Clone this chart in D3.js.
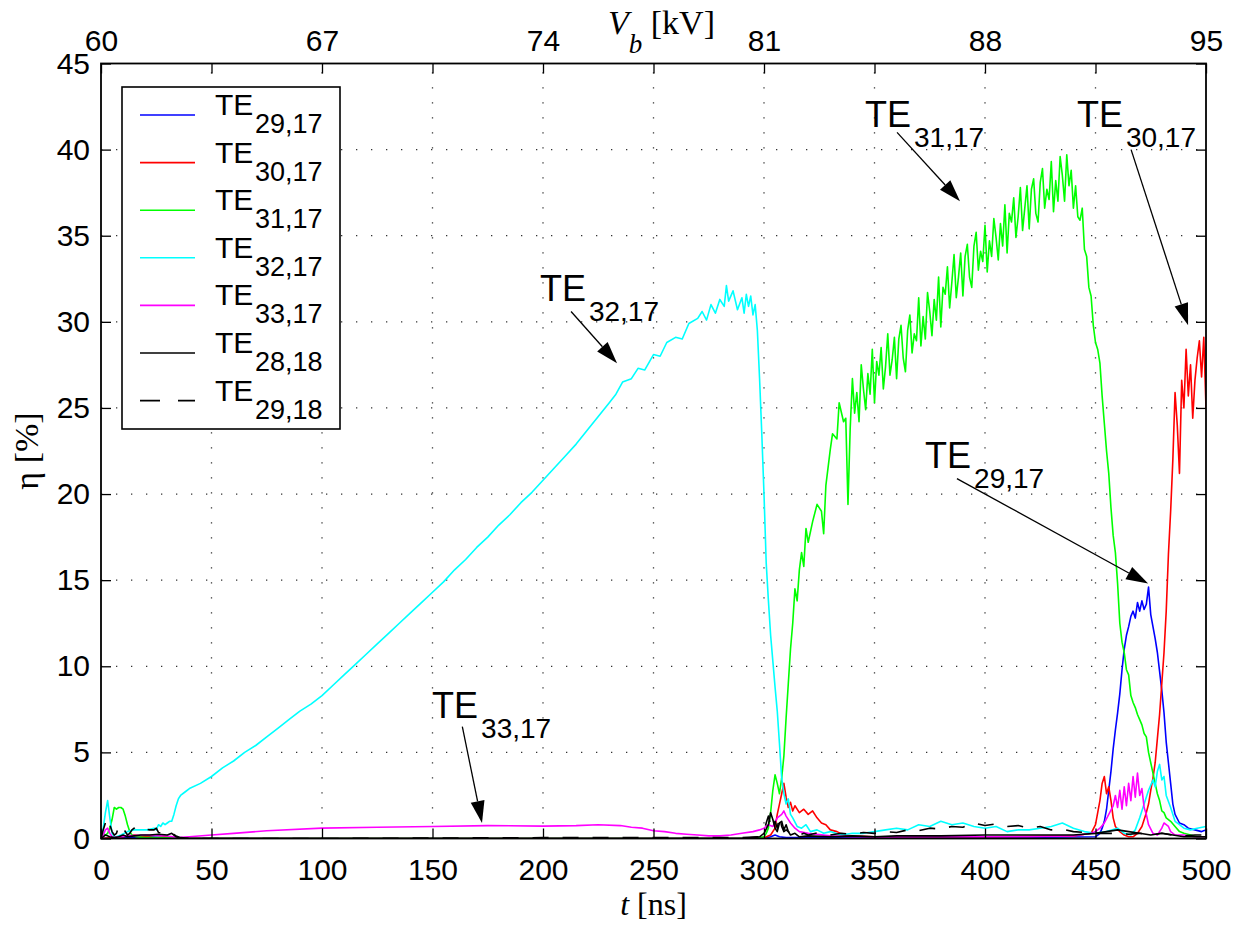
<!DOCTYPE html>
<html>
<head>
<meta charset="utf-8">
<script src="https://cdn.jsdelivr.net/npm/d3@7"></script>
<style>
  body { margin: 0; background: #fff; }
</style>
</head>
<body>
<svg id="chart" width="1244" height="930"></svg>
<script>
// axis ticks
const tTicks = [0, 50, 100, 150, 200, 250, 300, 350, 400, 450, 500];
const etaTicks = [0, 5, 10, 15, 20, 25, 30, 35, 40, 45];
const vbTicks = [60, 67, 74, 81, 88, 95];

// mode names (subscripts of TE)
const modeNames = ["29,17", "30,17", "31,17", "32,17", "33,17", "28,18", "29,18"];

// [t (ns), eta (%)]
const te2917 = [[0,0],[10,0.05],[20,0.1],[30,0.05],[35,0],[100,0],[300,0],[303,0.1],[305,0.2],[307,0.1],[310,0.05],[320,0.05],[400,0.05],[450,0.1],
  [452,0.3],[453,0.6],[454,1.0],[455,1.7],[456,2.8],[457,3.9],[458,5.2],[459,6.3],[460,7.3],[461,8.4],[462,9.8],[463,11.0],[464,11.8],[465,12.3],
  [466,12.9],[467,13.2],[468,12.8],[469,13.7],[470,13.2],[471,13.8],[472,13.3],[473,13.6],[474,14.6],[475,13.0],[476,12.3],[477,11.6],[478,10.8],
  [479,9.7],[480,8.6],[481,7.3],[482,5.6],[483,4.4],[484,3.2],[485,2.0],[486,1.4],[488,0.9],[490,0.8],[492,0.6],[495,0.5],[498,0.4],[500,0.5]];

const te3017 = [[0,0],[10,0.1],[15,0.2],[20,0.1],[25,0.2],[30,0.1],[35,0],[100,0],[200,0],[290,0],[300,0.05],[303,0.2],[305,0.6],[306,1.4],
  [307,2.0],[308,2.6],[309,3.2],[310,2.4],[311,1.8],[312,2.1],[313,1.6],[314,1.9],[316,1.5],[318,1.7],[320,1.4],[322,1.6],[324,1.2],[326,0.9],
  [328,0.8],[330,0.5],[333,0.4],[336,0.2],[340,0.15],[350,0.1],[400,0.1],[440,0.15],[448,0.3],[450,0.8],[451,1.5],[452,2.2],[453,3.2],[454,3.6],
  [455,2.6],[456,3.0],[457,2.2],[458,1.2],[459,0.7],[461,0.4],[463,0.2],[465,0.1],[467,0.1],[469,0.3],[471,0.7],[473,1.5],[474,2.0],[475,2.8],
  [476,3.5],[477,4.4],[478,5.8],[479,7.2],[480,9.0],[481,10.8],[482,13.2],[483,16.5],[484,19.0],[485,22.0],[486,25.9],[487,24.0],[488,21.2],
  [489,26.6],[490,25.0],[491,28.4],[492,25.7],[493,27.5],[494,24.4],[495,26.6],[496,27.9],[497,28.9],[498,26.8],[499,29.1],[500,25.0]];

const te3117 = [[0,0],[1,0.3],[2,0.2],[3,0.3],[4,0.6],[5,1.1],[6,1.8],[7,1.7],[8,1.8],[9,1.8],[10,1.7],[11,1.3],[12,0.8],[13,0.4],[14,0.2],
  [16,0.1],[20,0.05],[30,0.05],[40,0],[100,0],[200,0],[290,0],[298,0.05],[300,0.1],[301,0.3],[302,0.6],[303,1.5],[304,2.8],[305,3.7],[306,3.2],
  [307,2.6],[308,3.5],[309,4.8],[310,7.0],[311,9.0],[312,11.0],[313,12.5],[314,14.5],[315,13.8],[316,15.6],[317,16.6],[318,15.8],[319,18.0],
  [320,17.2],[322,18.4],[324,19.4],[326,19.0],[327,17.7],[328,20.5],[330,22.6],[331,23.5],[333,23.2],[334,25.3],[336,24.2],[337,24.4],[338,19.4],
  [339,23.8],[340,26.7],[341,24.7],[342,25.9],[343,24.2],[344,27.5],[345,26.1],[346,24.9],[347,27.0],[348,25.8],[349,28.4],[350,25.3],[351,27.7],
  [352,26.9],[353,28.5],[354,26.1],[355,27.4],[356,29.3],[357,26.9],[358,27.8],[359,29.1],[360,26.7],[361,29.0],[362,29.8],[363,27.9],[364,27.1],
  [365,29.5],[366,30.4],[367,28.2],[368,29.3],[369,28.9],[370,31.4],[371,28.6],[372,30.3],[373,29.0],[374,31.7],[375,30.6],[376,29.2],[377,31.3],
  [378,30.1],[379,32.6],[380,29.7],[381,32.0],[382,31.6],[383,33.2],[384,30.8],[385,32.3],[386,33.9],[387,31.4],[388,32.6],[389,34.0],[390,31.5],
  [391,33.8],[392,34.5],[393,32.6],[394,32.0],[395,34.4],[396,35.2],[397,33.0],[398,34.1],[399,33.5],[400,35.6],[401,32.9],[402,34.7],[403,33.8],
  [404,36.0],[405,34.9],[406,33.6],[407,35.7],[408,34.4],[409,36.8],[410,34.0],[411,36.3],[412,35.8],[413,37.2],[414,34.9],[415,36.1],[416,37.8],
  [417,35.3],[418,36.6],[419,37.9],[420,35.4],[421,37.7],[422,38.3],[423,36.3],[424,35.8],[425,38.1],[426,38.9],[427,36.6],[428,37.7],[429,37.1],
  [430,39.3],[431,36.4],[432,38.2],[433,37.0],[434,39.6],[435,38.5],[436,37.0],[437,39.7],[438,37.9],[439,38.8],[440,36.6],[441,37.9],[442,36.1],
  [443,35.9],[444,36.6],[445,34.2],[446,33.8],[447,32.0],[448,31.5],[449,29.8],[450,28.8],[451,28.4],[452,27.6],[453,25.7],[454,24.1],[455,22.5],
  [456,21.2],[457,19.2],[458,17.6],[459,16.6],[460,14.8],[461,12.5],[462,11.4],[463,10.8],[464,9.8],[465,9.5],[466,8.3],[467,7.9],[468,7.6],
  [469,7.2],[470,6.9],[471,6.6],[472,6.1],[473,5.9],[474,5.0],[475,4.4],[476,3.8],[477,3.2],[478,2.6],[479,2.2],[480,1.6],[481,1.5],[482,1.2],
  [484,1.0],[486,0.7],[488,0.4],[490,0.3],[493,0.2],[496,0.1],[500,0.1]];

const te3217 = [[0,0],[1,0.6],[2,1.5],[3,2.2],[4,1.2],[5,0.3],[6,0.1],[7,0.1],[9,0.2],[12,0.4],[15,0.5],[18,0.5],[21,0.5],[24,0.6],[25,0.5],
  [26,0.8],[27,0.7],[28,0.9],[29,0.8],[30,0.9],[31,1.0],[32,1.0],[33,1.4],[34,1.9],[35,2.3],[36,2.5],[38,2.7],[40,2.9],[45,3.2],[50,3.6],[55,4.1],
  [60,4.5],[65,5.0],[70,5.4],[75,5.9],[80,6.4],[85,6.9],[90,7.4],[95,7.8],[100,8.3],[105,8.9],[110,9.5],[115,10.1],[120,10.7],[125,11.3],
  [130,11.9],[135,12.5],[140,13.1],[145,13.7],[150,14.3],[155,14.9],[160,15.6],[165,16.2],[170,16.9],[175,17.5],[180,18.2],[185,18.8],[190,19.5],
  [195,20.1],[200,20.8],[205,21.5],[210,22.2],[215,22.9],[220,23.7],[225,24.5],[230,25.3],[233,25.8],[236,26.5],[240,26.7],[243,27.3],[246,27.2],
  [250,28.1],[253,28.0],[256,28.8],[260,29.1],[263,29.0],[266,29.9],[270,30.2],[272,30.6],[274,30.1],[276,31.0],[278,30.5],[280,31.3],[282,30.9],
  [283,32.1],[284,31.2],[286,31.8],[288,30.7],[290,31.4],[291,30.5],[292,31.6],[293,30.9],[294,31.5],[295,30.4],[296,31.0],[297,29.5],[298,26.7],
  [299,23.5],[300,20.0],[301,16.0],[302,13.8],[303,11.8],[304,10.3],[305,8.8],[306,7.4],[307,5.5],[308,3.5],[309,2.6],[310,2.0],[311,2.3],
  [312,1.4],[313,1.2],[315,0.7],[317,0.6],[319,0.8],[321,0.4],[324,0.5],[327,0.3],[330,0.4],[335,0.2],[340,0.3],[345,0.3],[350,0.4],[355,0.5],
  [360,0.6],[365,0.5],[370,0.8],[375,0.7],[380,1.0],[385,0.8],[390,0.9],[395,0.7],[400,0.6],[405,0.7],[410,0.4],[415,0.5],[420,0.5],[425,0.6],
  [430,0.7],[435,0.9],[440,0.6],[445,0.4],[450,0.3],[455,0.4],[460,0.6],[463,0.3],[466,0.2],[468,0.5],[470,1.2],[472,2.0],[474,2.8],[476,3.4],
  [477,3.0],[478,3.9],[479,4.3],[480,3.4],[481,3.6],[482,2.5],[484,1.8],[486,1.0],[488,0.8],[490,0.6],[493,0.5],[496,0.6],[500,0.7]];

const te3317 = [[0,0],[1,0.2],[2,0.5],[3,0.6],[4,0.3],[5,0.1],[6,0.05],[8,0.1],[12,0.15],[20,0.2],[30,0.15],[35,0.05],[40,0.1],[50,0.2],[60,0.3],
  [75,0.45],[100,0.6],[125,0.65],[150,0.7],[175,0.75],[200,0.72],[215,0.75],[225,0.8],[235,0.75],[240,0.65],[245,0.6],[250,0.45],[255,0.4],
  [260,0.3],[265,0.25],[270,0.2],[275,0.15],[280,0.15],[285,0.2],[290,0.3],[295,0.4],[298,0.5],[300,0.6],[302,0.8],[304,0.7],[306,1.2],[308,1.4],
  [309,1.6],[310,1.3],[312,0.9],[314,0.6],[316,0.4],[320,0.3],[330,0.15],[340,0.1],[360,0.1],[380,0.1],[400,0.1],[420,0.1],[440,0.15],[448,0.3],
  [450,0.4],[452,0.6],[454,0.9],[456,1.4],[458,1.9],[459,2.5],[460,1.8],[461,2.8],[462,1.7],[463,3.0],[464,1.9],[465,3.2],[466,2.2],[467,3.6],
  [468,2.4],[469,3.8],[470,2.5],[471,2.9],[472,1.8],[473,1.4],[474,0.8],[476,0.3],[478,0.2],[480,0.6],[481,0.9],[482,0.8],[483,0.7],[484,0.4],
  [486,0.2],[490,0.2],[495,0.1],[500,0.1]];

const te2818 = [[0,0],[2,0.2],[4,0.1],[6,0.05],[8,0.1],[10,0.2],[12,0.1],[15,0.15],[18,0.2],[22,0.2],[26,0.25],[30,0.2],[32,0.3],[34,0.1],[36,0],
  [40,0],[100,0],[200,0],[290,0],[298,0.1],[300,0.3],[302,0.8],[303,1.5],[304,1.1],[305,0.6],[306,0.4],[307,0.9],[308,1.0],[309,0.5],[310,0.8],
  [311,0.4],[312,0.2],[314,0.3],[316,0.1],[320,0.15],[330,0.1],[340,0.15],[350,0.1],[360,0.15],[380,0.15],[400,0.2],[420,0.2],[440,0.2],
  [450,0.3],[455,0.4],[460,0.5],[465,0.4],[470,0.3],[475,0.2],[480,0.3],[485,0.2],[490,0.1],[495,0.1],[500,0.1]];

const te2918 = [[0,0],[1,0.5],[2,0.9],[3,1.2],[4,0.8],[5,0.4],[6,0.2],[7,0.3],[8,0.7],[9,0.8],[10,0.6],[11,0.4],[12,0.2],[13,0.3],[14,0.5],
  [15,0.6],[16,0.45],[18,0.5],[20,0.55],[22,0.5],[24,0.5],[25,0.6],[26,0.35],[28,0.3],[30,0.2],[32,0.3],[34,0.15],[36,0.05],[40,0],[100,0],
  [200,0.05],[290,0.05],[298,0.1],[300,0.4],[301,0.9],[302,1.3],[303,0.8],[304,0.5],[305,1.0],[306,0.6],[307,1.3],[308,0.7],[309,0.4],[310,0.5],
  [312,0.3],[314,0.4],[316,0.2],[318,0.3],[320,0.2],[325,0.35],[330,0.2],[335,0.3],[340,0.25],[345,0.35],[350,0.3],[355,0.4],[360,0.35],
  [365,0.5],[370,0.45],[375,0.6],[380,0.55],[385,0.7],[390,0.65],[395,0.9],[400,0.75],[405,0.85],[410,0.7],[415,0.75],[420,0.6],[425,0.7],
  [430,0.5],[435,0.55],[440,0.4],[445,0.35],[450,0.3],[455,0.3],[460,0.3],[465,0.25],[470,0.3],[475,0.2],[480,0.3],[485,0.2],[490,0.15],
  [495,0.2],[500,0.2]];

const series = [
  { name: modeNames[0], data: te2917, color: "#0000ff", dash: null },
  { name: modeNames[1], data: te3017, color: "#ff0000", dash: null },
  { name: modeNames[2], data: te3117, color: "#00ff00", dash: null },
  { name: modeNames[3], data: te3217, color: "#00ffff", dash: null },
  { name: modeNames[4], data: te3317, color: "#ff00ff", dash: null },
  { name: modeNames[5], data: te2818, color: "#000000", dash: null },
  { name: modeNames[6], data: te2918, color: "#000000", dash: "16,14" }
];

// labelled arrows, in data units: text at (tx, ty), arrow from (x0,y0) to (x1,y1)
const annotations = [
  { sub: "32,17", tx: 198.6, ty: 31.2, x0: 212.7, y0: 30.6, x1: 233.5, y1: 27.6 },
  { sub: "33,17", tx: 149.8, ty: 7.0, x0: 163.5, y0: 6.5, x1: 172.4, y1: 0.9 },
  { sub: "31,17", tx: 345.7, ty: 41.3, x0: 360.2, y0: 41.0, x1: 388.7, y1: 37.0 },
  { sub: "30,17", tx: 441.6, ty: 41.3, x0: 466.1, y0: 40.0, x1: 491.9, y1: 29.8 },
  { sub: "29,17", tx: 372.9, ty: 21.5, x0: 387.3, y0: 20.9, x1: 473.8, y1: 14.8 }
];

const width = 1244, height = 930;
const margin = { top: 63.5, right: 38, bottom: 91.5, left: 101 };
const sans = "'Liberation Sans', Arial, sans-serif";
const serif = "'Liberation Serif', 'Times New Roman', serif";

const svg = d3.select("#chart");

const x = d3.scaleLinear().domain([0, 500]).range([margin.left, width - margin.right]);
const y = d3.scaleLinear().domain([0, 45]).range([height - margin.bottom, margin.top]);
const xTop = d3.scaleLinear().domain([60, 95]).range(x.range());

// dotted grid
const grid = svg.append("g")
  .attr("stroke", "#333")
  .attr("stroke-width", 1.3)
  .attr("stroke-dasharray", "1.3,13.7");
grid.selectAll(".gx")
  .data(tTicks.slice(1, -1))
  .join("line")
  .attr("x1", d => x(d)).attr("x2", d => x(d))
  .attr("y1", y(0)).attr("y2", y(45));
grid.selectAll(".gy")
  .data(etaTicks.slice(1, -1))
  .join("line")
  .attr("x1", x(0)).attr("x2", x(500))
  .attr("y1", d => y(d)).attr("y2", d => y(d));

// curves
svg.append("defs").append("clipPath").attr("id", "plotClip")
  .append("rect")
  .attr("x", x(0)).attr("y", y(45))
  .attr("width", x(500) - x(0)).attr("height", y(0) - y(45));

const line = d3.line().x(d => x(d[0])).y(d => y(d[1]));
svg.append("g")
  .attr("clip-path", "url(#plotClip)")
  .selectAll("path")
  .data(series)
  .join("path")
  .attr("d", d => line(d.data))
  .attr("fill", "none")
  .attr("stroke", d => d.color)
  .attr("stroke-width", 1.6)
  .attr("stroke-linejoin", "round")
  .attr("stroke-dasharray", d => d.dash);

// axes, ticks pointing inward
function styleAxis(g) {
  g.select(".domain").remove();
  g.selectAll(".tick line").attr("stroke", "#000").attr("stroke-width", 1.3);
  g.selectAll("text").attr("fill", "#000").attr("font-family", sans).attr("font-size", 30);
}
svg.append("g")
  .attr("transform", `translate(0,${y(0)})`)
  .call(d3.axisBottom(x).tickValues(tTicks).tickSizeInner(-10).tickSizeOuter(0).tickPadding(20))
  .call(styleAxis);
svg.append("g")
  .attr("transform", `translate(${x(0)},0)`)
  .call(d3.axisLeft(y).tickValues(etaTicks).tickSizeInner(-10).tickSizeOuter(0).tickPadding(11))
  .call(styleAxis);
svg.append("g")
  .attr("transform", `translate(${x(500)},0)`)
  .call(d3.axisRight(y).tickValues(etaTicks).tickSizeInner(-10).tickSizeOuter(0).tickFormat(""))
  .call(styleAxis);
svg.append("g")
  .attr("transform", `translate(0,${y(45)})`)
  .call(d3.axisTop(x).tickValues(tTicks).tickSizeInner(-10).tickSizeOuter(0).tickFormat(""))
  .call(styleAxis);
svg.append("g")
  .attr("transform", `translate(0,${y(45)})`)
  .call(d3.axisTop(xTop).tickValues(vbTicks).tickSize(0).tickPadding(13))
  .call(styleAxis);

// frame
svg.append("rect")
  .attr("x", x(0)).attr("y", y(45))
  .attr("width", x(500) - x(0)).attr("height", y(0) - y(45))
  .attr("fill", "none").attr("stroke", "#000").attr("stroke-width", 1.8);

// axis titles
const tLabel = svg.append("text")
  .attr("x", x(250)).attr("y", 915)
  .attr("text-anchor", "middle")
  .attr("font-family", serif).attr("font-size", 32);
tLabel.append("tspan").attr("font-style", "italic").text("t");
tLabel.append("tspan").text(" [ns]");

const vLabel = svg.append("text")
  .attr("x", 608).attr("y", 34)
  .attr("font-family", serif).attr("font-size", 34);
vLabel.append("tspan").attr("font-style", "italic").text("V");
vLabel.append("tspan").attr("font-style", "italic").attr("font-size", 27).attr("dy", 19).text("b");
vLabel.append("tspan").attr("dy", -19).text(" [kV]");

svg.append("text")
  .attr("transform", `translate(38,${(y(0) + y(45)) / 2}) rotate(-90)`)
  .attr("text-anchor", "middle")
  .attr("font-family", serif).attr("font-size", 34)
  .text("η [%]");

// legend
const legend = svg.append("g");
legend.append("rect")
  .attr("x", 122).attr("y", 87).attr("width", 218).attr("height", 342)
  .attr("fill", "#fff").attr("stroke", "#000").attr("stroke-width", 1.6);
const rows = legend.selectAll(".row")
  .data(series)
  .join("g")
  .attr("transform", (d, i) => `translate(0,${115 + i * 47.6})`);
rows.append("line")
  .attr("x1", 140).attr("x2", 195)
  .attr("stroke", d => d.color).attr("stroke-width", 1.6)
  .attr("stroke-dasharray", d => d.dash ? "20,18" : null);
rows.append("text")
  .attr("x", 215).attr("y", 0)
  .attr("font-family", sans).attr("font-size", 30)
  .text("TE");
rows.append("text")
  .attr("x", 255).attr("y", 18)
  .attr("font-family", sans).attr("font-size", 27)
  .text(d => d.name);

// annotations with arrows
const ann = svg.append("g");
annotations.forEach(a => {
  const te = ann.append("text")
    .attr("x", x(a.tx)).attr("y", y(a.ty))
    .attr("font-family", sans).attr("font-size", 36)
    .text("TE");
  const w = te.node().getComputedTextLength();
  ann.append("text")
    .attr("x", x(a.tx) + w + 3).attr("y", y(a.ty) + 20)
    .attr("font-family", sans).attr("font-size", 28)
    .text(a.sub);

  const px0 = x(a.x0), py0 = y(a.y0), px1 = x(a.x1), py1 = y(a.y1);
  const ang = Math.atan2(py1 - py0, px1 - px0);
  const len = 22, half = 7;
  const bx = px1 - len * Math.cos(ang), by = py1 - len * Math.sin(ang);
  ann.append("line")
    .attr("x1", px0).attr("y1", py0).attr("x2", bx).attr("y2", by)
    .attr("stroke", "#000").attr("stroke-width", 1.3);
  ann.append("polygon")
    .attr("points", [
      [px1, py1],
      [bx + half * Math.sin(ang), by - half * Math.cos(ang)],
      [bx - half * Math.sin(ang), by + half * Math.cos(ang)]
    ].map(p => p.join(",")).join(" "))
    .attr("fill", "#000");
});
</script>
</body>
</html>
